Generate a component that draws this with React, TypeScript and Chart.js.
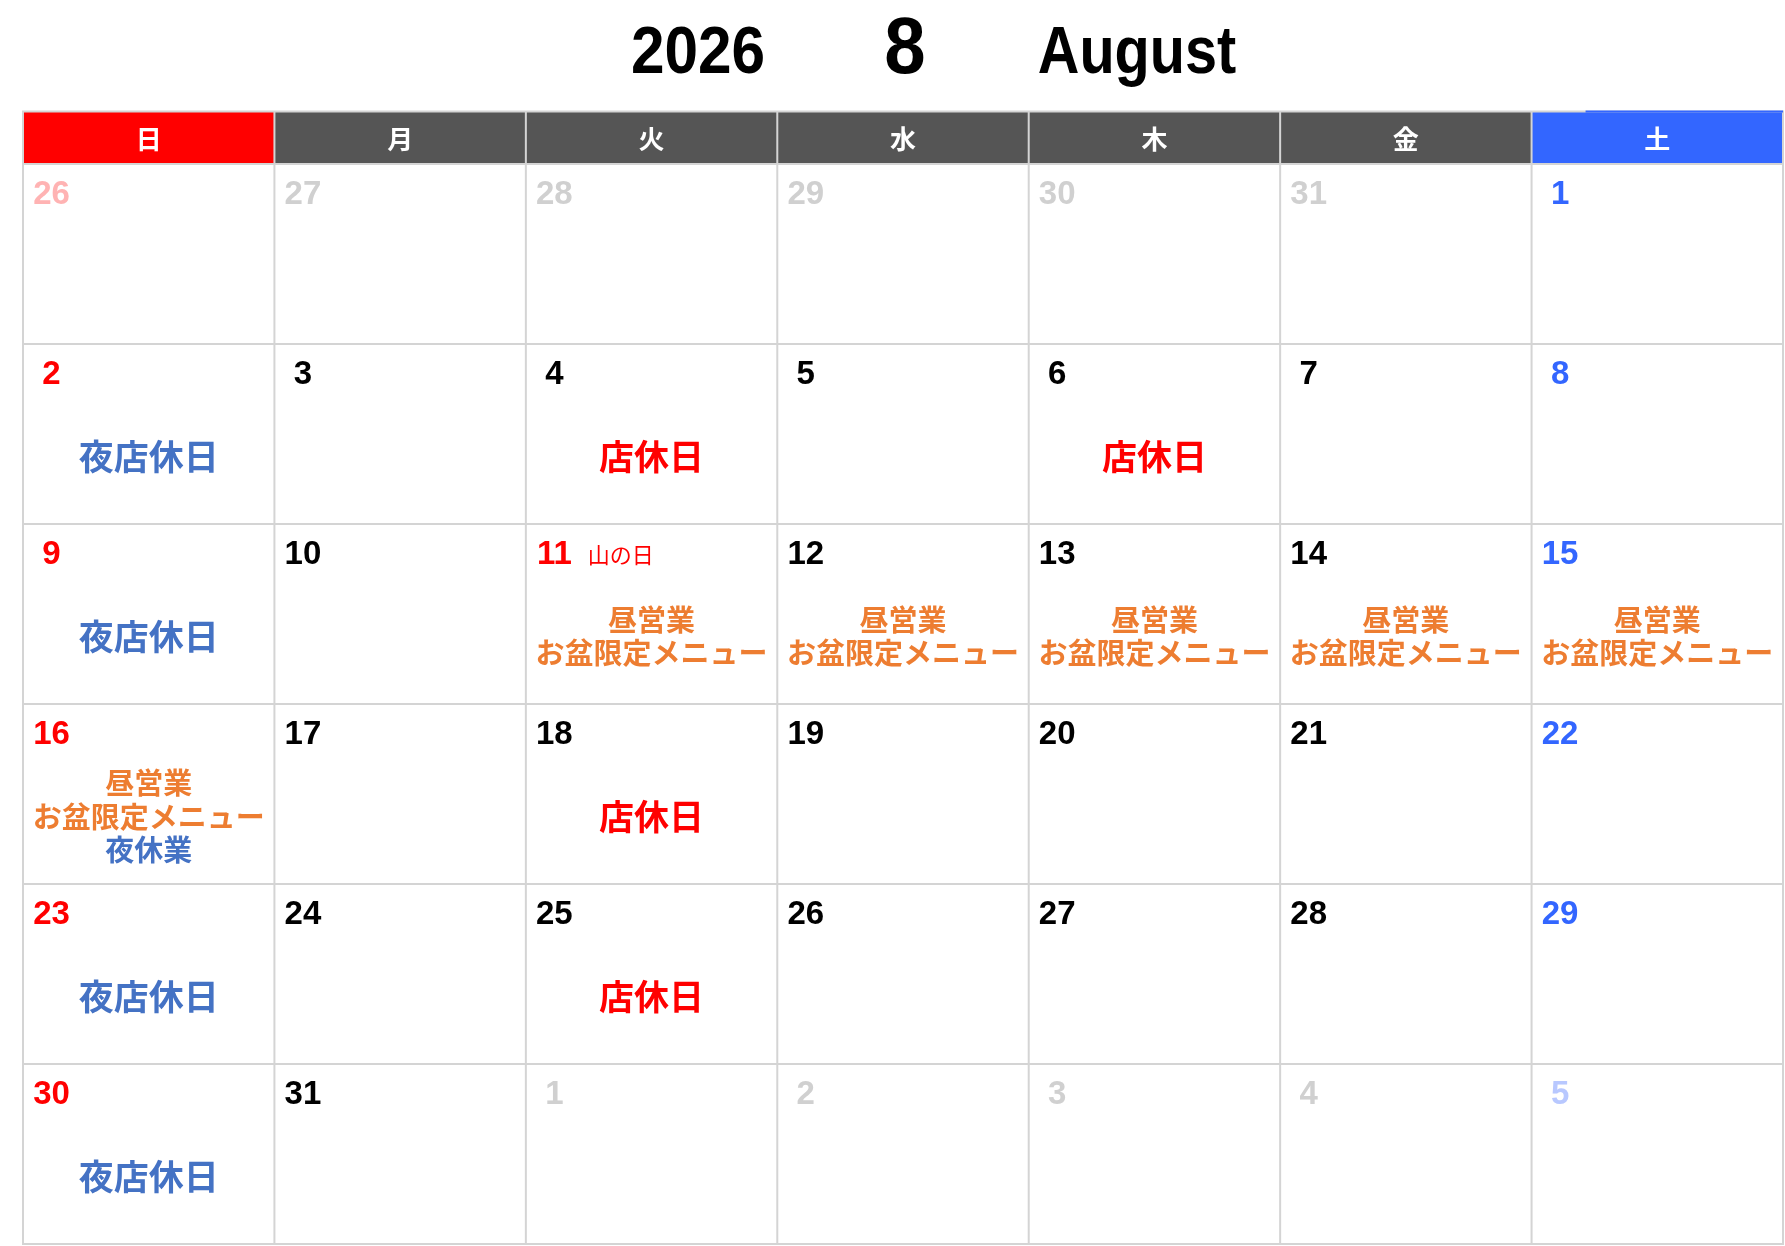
import { useEffect, useRef } from "react";
import { Chart, registerables } from "chart.js";

Chart.register(...registerables);

// ---------- data ----------
const TITLE_YEAR = "2026";
const TITLE_MONTH = "8";
const TITLE_MONTH_NAME = "August";

const WEEKDAY_LABELS = ["日", "月", "火", "水", "木", "金", "土"];
const WEEKDAY_HEADER_COLORS = ["#ff0000", "#555555", "#555555", "#555555", "#555555", "#555555", "#3366ff"];

// 6 weeks x 7 days, Sunday first
const CALENDAR_DAYS = [
  26, 27, 28, 29, 30, 31, 1,
  2, 3, 4, 5, 6, 7, 8,
  9, 10, 11, 12, 13, 14, 15,
  16, 17, 18, 19, 20, 21, 22,
  23, 24, 25, 26, 27, 28, 29,
  30, 31, 1, 2, 3, 4, 5,
];
const IN_MONTH = [
  0, 0, 0, 0, 0, 0, 1,
  1, 1, 1, 1, 1, 1, 1,
  1, 1, 1, 1, 1, 1, 1,
  1, 1, 1, 1, 1, 1, 1,
  1, 1, 1, 1, 1, 1, 1,
  1, 1, 0, 0, 0, 0, 0,
];

const HOLIDAY_DAYS = [11];
const HOLIDAY_NAMES = ["山の日"];

const NIGHT_CLOSED_DAYS = [2, 9, 23, 30]; // 夜店休日
const SHOP_CLOSED_DAYS = [4, 6, 18, 25]; // 店休日
const OBON_DAYS = [11, 12, 13, 14, 15, 16]; // 昼営業 / お盆限定メニュー
const NIGHT_OFF_DAYS = [16]; // 夜休業

const TEXT_NIGHT_CLOSED = "夜店休日";
const TEXT_SHOP_CLOSED = "店休日";
const TEXT_OBON = ["昼営業", "お盆限定メニュー"];
const TEXT_NIGHT_OFF = "夜休業";

// ---------- styles ----------
const C_BLUE_TEXT = "#4472c4";
const C_RED = "#ff0000";
const C_ORANGE = "#ed7d31";
const C_SAT = "#3366ff";
const C_GRID = "#d4d4d4";
const JP = '"Noto Sans CJK JP", "Noto Sans CJK SC", sans-serif';
const LAT = '"Liberation Sans", Arial, sans-serif';

type Line = { text: string; color: string; size: number };

function cellLines(day: number, inMonth: boolean): Line[] {
  if (!inMonth) return [];
  const out: Line[] = [];
  if (NIGHT_CLOSED_DAYS.includes(day)) out.push({ text: TEXT_NIGHT_CLOSED, color: C_BLUE_TEXT, size: 35 });
  if (SHOP_CLOSED_DAYS.includes(day)) out.push({ text: TEXT_SHOP_CLOSED, color: C_RED, size: 35 });
  if (OBON_DAYS.includes(day)) TEXT_OBON.forEach((t) => out.push({ text: t, color: C_ORANGE, size: 29 }));
  if (NIGHT_OFF_DAYS.includes(day)) out.push({ text: TEXT_NIGHT_OFF, color: C_BLUE_TEXT, size: 29 });
  return out;
}

function numberColor(col: number, day: number, inMonth: boolean): string {
  const holiday = inMonth && HOLIDAY_DAYS.includes(day);
  if (col === 0 || holiday) return inMonth ? C_RED : "#ffb3b3";
  if (col === 6) return inMonth ? C_SAT : "#b8c8ff";
  return inMonth ? "#000000" : "#d0d0d0";
}

const HEADER_H = 52.5;

const calendarPlugin = {
  id: "calendarDraw",
  beforeDraw(chart: any) {
    const ctx = chart.ctx;
    ctx.save();
    ctx.fillStyle = "#ffffff";
    ctx.fillRect(0, 0, chart.width, chart.height);
    ctx.restore();
  },
  afterDraw(chart: any) {
    const ctx: CanvasRenderingContext2D = chart.ctx;
    const xs = chart.scales.x;
    const ys = chart.scales.y;
    const area = chart.chartArea;
    const headTop = area.top - HEADER_H;
    const cx = (area.left + area.right) / 2;

    ctx.save();
    // title
    const drawCondensed = (t: string, x: number, y: number, font: string, sx: number) => {
      ctx.save();
      ctx.translate(x, y);
      ctx.scale(sx, 1);
      ctx.font = font;
      ctx.fillStyle = "#000";
      ctx.textAlign = "center";
      ctx.textBaseline = "alphabetic";
      ctx.fillText(t, 0, 0);
      ctx.restore();
    };
    const titleBase = headTop - 39;
    drawCondensed(TITLE_YEAR, cx - 205, titleBase, `bold 67px ${LAT}`, 0.9);
    drawCondensed(TITLE_MONTH, cx + 2, titleBase, `bold 80px ${LAT}`, 0.93);
    drawCondensed(TITLE_MONTH_NAME, cx + 234, titleBase, `bold 67px ${LAT}`, 0.86);

    // header
    for (let c = 0; c < 7; c++) {
      const x0 = xs.getPixelForValue(c);
      const x1 = xs.getPixelForValue(c + 1);
      ctx.fillStyle = WEEKDAY_HEADER_COLORS[c];
      ctx.fillRect(x0, headTop, x1 - x0, HEADER_H);
      ctx.fillStyle = "#ffffff";
      ctx.font = `bold 26px ${JP}`;
      ctx.textAlign = "center";
      ctx.textBaseline = "middle";
      ctx.fillText(WEEKDAY_LABELS[c], (x0 + x1) / 2, headTop + HEADER_H / 2 + 1);
    }

    // grid
    ctx.strokeStyle = C_GRID;
    ctx.lineWidth = 2;
    ctx.beginPath();
    for (let c = 0; c <= 7; c++) {
      const x = xs.getPixelForValue(c);
      ctx.moveTo(x, headTop);
      ctx.lineTo(x, area.bottom);
    }
    ctx.moveTo(area.left - 1, headTop);
    ctx.lineTo(area.right + 1, headTop);
    for (let r = 0; r <= 6; r++) {
      const y = ys.getPixelForValue(r);
      ctx.moveTo(area.left - 1, y);
      ctx.lineTo(area.right + 1, y);
    }
    ctx.stroke();
    // saturday header overlaps top border on the right part
    ctx.fillStyle = C_SAT;
    const satL = xs.getPixelForValue(6);
    const satR = xs.getPixelForValue(7);
    ctx.fillRect(satL + 54, headTop - 1, satR - satL - 54, 2);

    // cells
    for (let i = 0; i < CALENDAR_DAYS.length; i++) {
      const col = i % 7;
      const row = Math.floor(i / 7);
      const day = CALENDAR_DAYS[i];
      const inMonth = IN_MONTH[i] === 1;
      const left = xs.getPixelForValue(col);
      const right = xs.getPixelForValue(col + 1);
      const top = ys.getPixelForValue(row);
      const mid = (left + right) / 2;

      // number
      ctx.font = `bold 33px ${LAT}`;
      ctx.textAlign = "center";
      ctx.textBaseline = "alphabetic";
      ctx.fillStyle = numberColor(col, day, inMonth);
      const numX = left + 28.5;
      const numY = top + 40;
      ctx.fillText(String(day), numX, numY);
      const numW = ctx.measureText(String(day)).width;

      const hIdx = inMonth ? HOLIDAY_DAYS.indexOf(day) : -1;
      if (hIdx >= 0) {
        ctx.font = `22px ${JP}`;
        ctx.textAlign = "left";
        ctx.fillStyle = C_RED;
        ctx.fillText(HOLIDAY_NAMES[hIdx], numX + numW / 2 + 16, numY - 1);
      }

      const lines = cellLines(day, inMonth);
      if (lines.length) {
        const spacing = 33.5;
        const centerY = top + 112.5;
        const startY = centerY - ((lines.length - 1) * spacing) / 2;
        lines.forEach((ln, k) => {
          ctx.font = `bold ${ln.size}px ${JP}`;
          ctx.textAlign = "center";
          ctx.textBaseline = "middle";
          ctx.fillStyle = ln.color;
          ctx.fillText(ln.text, mid, startY + k * spacing);
        });
      }
    }
    ctx.restore();
  },
};

export default function App() {
  const ref = useRef<HTMLCanvasElement | null>(null);
  useEffect(() => {
    document.body.style.margin = "0";
    const canvas = ref.current;
    if (!canvas) return;
    const points = CALENDAR_DAYS.map((_, i) => ({ x: (i % 7) + 0.5, y: Math.floor(i / 7) + 0.5 }));
    const chart = new Chart(canvas, {
      type: "scatter",
      data: {
        datasets: [
          {
            label: "days",
            data: points,
            pointRadius: 0,
            pointHoverRadius: 0,
          },
        ],
      },
      options: {
        animation: false,
        responsive: false,
        devicePixelRatio: 1,
        events: [],
        layout: { padding: { left: 23, right: 2, top: 164, bottom: 2 } },
        plugins: { legend: { display: false }, tooltip: { enabled: false }, title: { display: false } },
        scales: {
          x: { type: "linear", min: 0, max: 7, display: false },
          y: { type: "linear", min: 0, max: 6, reverse: true, display: false },
        },
      },
      plugins: [calendarPlugin],
    });
    return () => chart.destroy();
  }, []);
  return <canvas ref={ref} width={1785} height={1246} style={{ display: "block" }} />;
}
